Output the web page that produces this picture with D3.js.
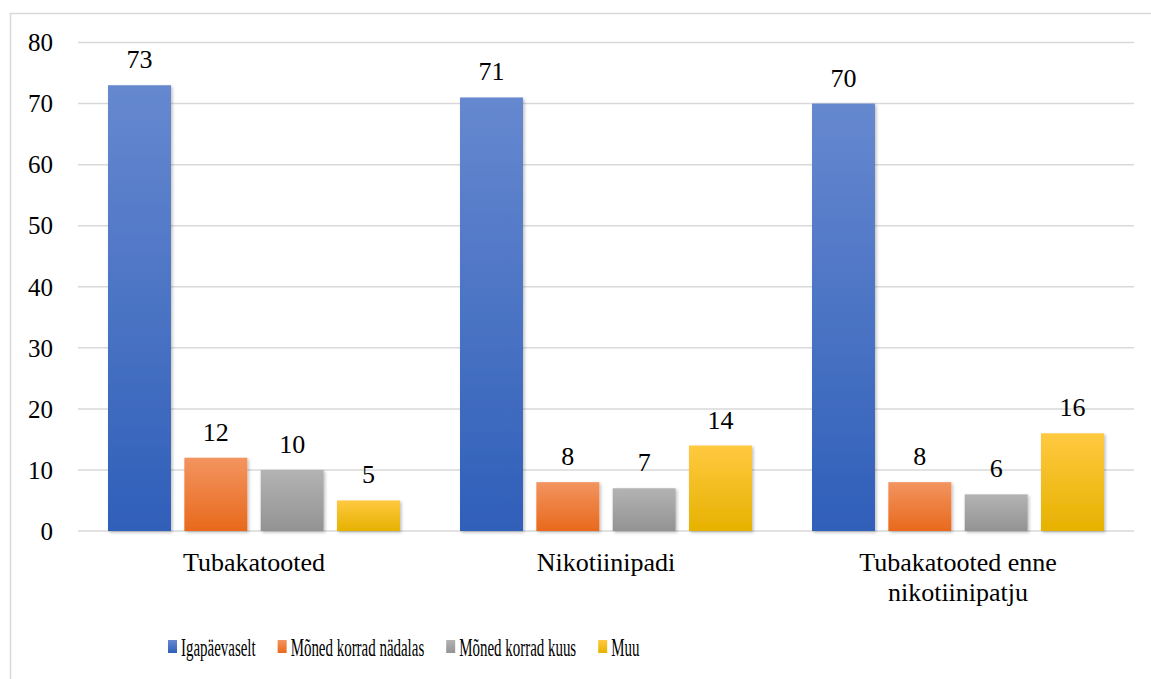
<!DOCTYPE html>
<html>
<head>
<meta charset="utf-8">
<script src="https://cdn.jsdelivr.net/npm/d3@7"></script>
</head>
<body style="margin:0">
<script>
// Sagedus toote järgi (%)
const categories = ["Tubakatooted", "Nikotiinipadi", "Tubakatooted enne nikotiinipatju"];
const categoryLines = [["Tubakatooted"], ["Nikotiinipadi"], ["Tubakatooted enne", "nikotiinipatju"]];
const seriesNames = ["Igapäevaselt", "Mõned korrad nädalas", "Mõned korrad kuus", "Muu"];
const igapaevaselt = [73, 71, 70];
const nadalas = [12, 8, 8];
const kuus = [10, 7, 6];
const muu = [5, 14, 16];
const yTicks = [0, 10, 20, 30, 40, 50, 60, 70, 80];

const seriesValues = [igapaevaselt, nadalas, kuus, muu];
const gradients = [
  ["#6688cf", "#2f5fb9"],
  ["#f39460", "#e8691c"],
  ["#b3b3b3", "#939393"],
  ["#ffc940", "#e6b200"]
];
const FONT = "'Liberation Serif', 'Times New Roman', serif";

const W = 1151, H = 679;
const svg = d3.select("body").append("svg").attr("width", W).attr("height", H)
  .style("display", "block").attr("font-family", FONT);

const defs = svg.append("defs");
gradients.forEach((g, i) => {
  const lg = defs.append("linearGradient").attr("id", "grad" + i)
    .attr("x1", 0).attr("y1", 0).attr("x2", 0).attr("y2", 1);
  lg.append("stop").attr("offset", "0%").attr("stop-color", g[0]);
  lg.append("stop").attr("offset", "100%").attr("stop-color", g[1]);
});
const f = defs.append("filter").attr("id", "shadow")
  .attr("x", "-20%").attr("y", "-20%").attr("width", "140%").attr("height", "140%");
f.append("feDropShadow").attr("dx", 1.5).attr("dy", 1.5).attr("stdDeviation", 1.5)
  .attr("flood-color", "#000").attr("flood-opacity", 0.25);

// outer frame (left + top visible)
svg.append("rect").attr("x", 10.5).attr("y", 13.5).attr("width", W + 10).attr("height", H + 10)
  .attr("fill", "none").attr("stroke", "#d9d9d9").attr("stroke-width", 1.5);

const y = d3.scaleLinear().domain([0, 80]).range([531, 42.5]);
const x0 = d3.scaleBand().domain(categories).range([78, 1134]);
const x1 = d3.scaleBand().domain(seriesNames).range([30, x0.bandwidth() - 30]).paddingInner(0.175);

// gridlines
svg.append("g").selectAll("line").data(yTicks).join("line")
  .attr("x1", 78).attr("x2", 1134)
  .attr("y1", d => y(d)).attr("y2", d => y(d))
  .attr("stroke", "#d9d9d9").attr("stroke-width", 1.5);

// y labels
svg.append("g").selectAll("text").data(yTicks).join("text")
  .attr("x", 53).attr("y", d => y(d)).attr("dy", "0.35em")
  .attr("text-anchor", "end")
  .style("font-family", FONT).style("font-size", "25px").text(d => d);

// bars
const groups = svg.append("g").selectAll("g").data(categories).join("g")
  .attr("transform", c => `translate(${x0(c)},0)`);

groups.each(function(c, ci) {
  const g = d3.select(this);
  const rows = seriesNames.map((s, si) => ({ s, si, v: seriesValues[si][ci] }));
  g.selectAll("rect").data(rows).join("rect")
    .attr("x", d => x1(d.s)).attr("width", x1.bandwidth())
    .attr("y", d => y(d.v)).attr("height", d => y(0) - y(d.v))
    .attr("fill", d => `url(#grad${d.si})`).attr("filter", "url(#shadow)");
  g.selectAll("text.val").data(rows).join("text").attr("class", "val")
    .attr("x", d => x1(d.s) + x1.bandwidth() / 2).attr("y", d => y(d.v) - 17)
    .attr("text-anchor", "middle")
    .style("font-family", FONT).style("font-size", "26px").text(d => d.v);
});

// category labels
svg.append("g").selectAll("text").data(categories).join("text")
  .attr("x", c => x0(c) + x0.bandwidth() / 2).attr("y", 571)
  .attr("text-anchor", "middle")
  .style("font-family", FONT).style("font-size", "26px")
  .each(function(c, i) {
    d3.select(this).selectAll("tspan").data(categoryLines[i]).join("tspan")
      .attr("x", x0(c) + x0.bandwidth() / 2).attr("dy", (d, j) => j ? 30 : 0).text(d => d);
  });

// legend (horizontally condensed text)
const legend = svg.append("g");
let lx = 168;
seriesNames.forEach((s, i) => {
  legend.append("rect").attr("x", lx).attr("y", 640).attr("width", 9).attr("height", 13)
    .attr("fill", `url(#grad${i})`);
  const t = legend.append("text")
    .attr("transform", `translate(${lx + 13},656) scale(0.575,1)`)
    .style("font-family", FONT).style("font-size", "26px").text(s);
  const w = t.node().getComputedTextLength() * 0.575;
  lx += 13 + w + 22;
});
</script>
</body>
</html>
